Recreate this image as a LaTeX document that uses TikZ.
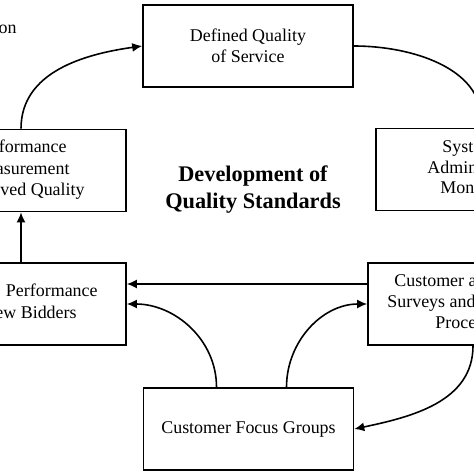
\documentclass[tikz,border=0pt]{standalone}
\usepackage{fontspec}
\setmainfont{Liberation Serif}
\usetikzlibrary{arrows.meta,positioning}

\begin{document}
\begin{tikzpicture}[x=0.5bp,y=-0.5bp,>={Latex[length=5bp,width=4.5bp]},
    box/.style={draw,line width=0.8pt,minimum width=105bp,minimum height=41bp,inner sep=0pt,align=center,font=\fontsize{9}{10.5}\selectfont},
    frag/.style={inner sep=0pt,font=\fontsize{9}{10.5}\selectfont},
    link/.style={->,line width=0.8pt}]
    \useasboundingbox (0,0) rectangle (474,474);
    \clip (0,0) rectangle (474,474);
    % boxes round the ring
    \node[box] (qos) at (248,46) {Defined Quality\\of Service};
    \node[box] (measure) at (21,170.5) {};
    \node[box] (admin) at (481,169.5) {};
    \node[box] (bidders) at (21,304) {};
    \node[box] (surveys) at (473,304) {};
    \node[box] (focus) at (248.5,429) {Customer Focus Groups};
    \node[font=\fontsize{11.2}{13.5}\selectfont\bfseries,align=center] (title) at (253,190) {Development of\\Quality Standards};
    % texts cut by the frame
    \node[frag,anchor=base east] (caption) at (17,34) {on};
    \node[frag,anchor=base east] (measure-a) at (67,153) {formance};
    \node[frag,anchor=base east] (measure-b) at (70,175) {asurement};
    \node[frag,anchor=base east] (measure-c) at (85,196) {ved Quality};
    \node[frag,anchor=base west] (admin-a) at (442,153) {Syst};
    \node[frag,anchor=base west] (admin-b) at (427,174) {Admin};
    \node[frag,anchor=base west] (admin-c) at (440,194) {Mon};
    \node[frag,anchor=base east] (bidders-a) at (98,296) {Performance};
    \node[frag,anchor=base east] (bidders-b) at (77,318) {ew Bidders};
    \node[frag,anchor=base west] (surveys-a) at (394,286) {Customer a};
    \node[frag,anchor=base west] (surveys-b) at (387,307) {Surveys and};
    \node[frag,anchor=base west] (surveys-c) at (435,328) {Proce};
    % connectors
    \draw[link] (measure.north) to[out=90,in=188] (qos.west);
    \draw[link] (qos.east) to[out=0,in=90] (admin.north);
    \draw[link] (bidders.north) -- (measure.south);
    \draw[link] ([yshift=10bp]surveys.west) -- ([yshift=10bp]bidders.east);
    \draw[link] ([xshift=-16bp]focus.north) to[out=90,in=0] (bidders.east);
    \draw[link] ([xshift=19bp]focus.north) to[out=90,in=180] (surveys.west);
    \draw[link] (surveys.south) to[out=-90,in=12] (focus.east);
  \end{tikzpicture}
\end{document}
